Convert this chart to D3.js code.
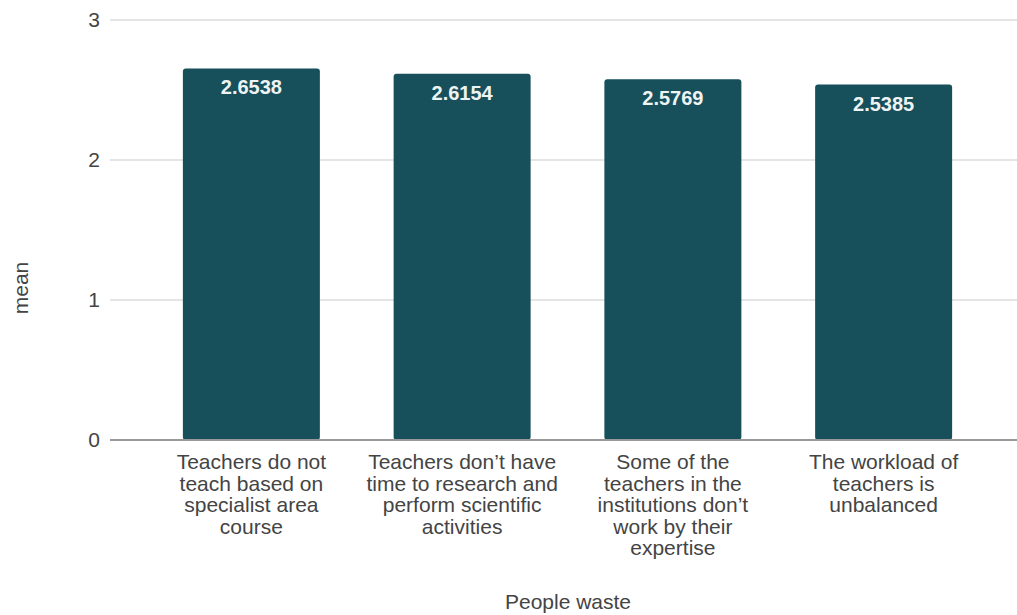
<!DOCTYPE html>
<html>
<head>
<meta charset="utf-8">
<script src="https://cdn.jsdelivr.net/npm/d3@7/dist/d3.min.js"></script>
<style>
  html, body { margin: 0; padding: 0; background: #fff; }
  svg { display: block; font-family: "Liberation Sans", Arial, sans-serif; }
</style>
</head>
<body>
<svg id="chart" width="1017" height="615"></svg>
<script>
// Mean score per "people waste" item
const categories = [
  ["Teachers do not", "teach based on", "specialist area", "course"],
  ["Teachers don’t have", "time to research and", "perform scientific", "activities"],
  ["Some of the", "teachers in the", "institutions don’t", "work by their", "expertise"],
  ["The workload of", "teachers is", "unbalanced"]
];
const means = [2.6538, 2.6154, 2.5769, 2.5385];
const yTicks = [0, 1, 2, 3];
const xTitle = "People waste";
const yTitle = "mean";

const svg = d3.select("#chart");
const W = 1017;
const plot = { left: 110, right: 1017, top: 20, bottom: 440 };

const x = d3.scaleBand()
  .domain(d3.range(means.length))
  .range([146, 989])
  .paddingInner(0.35)
  .paddingOuter(0.175);

const y = d3.scaleLinear().domain([0, 3]).range([plot.bottom, plot.top]);

const textColor = "#444";

// Horizontal gridlines
svg.append("g")
  .selectAll("line")
  .data(yTicks.filter(t => t !== 0))
  .join("line")
  .attr("x1", plot.left).attr("x2", plot.right)
  .attr("y1", d => y(d)).attr("y2", d => y(d))
  .attr("stroke", "#dcdcdc").attr("stroke-width", 1.5);

// Y axis labels
const yAxis = d3.axisLeft(y).tickValues(yTicks).tickSize(0).tickPadding(0).tickFormat(d3.format("d"));
const gy = svg.append("g").attr("transform", `translate(${plot.left - 10},0)`).call(yAxis);
gy.select(".domain").remove();
gy.selectAll("text")
  .attr("fill", textColor)
  .attr("font-size", 21)
  .attr("font-family", "Liberation Sans, Arial, sans-serif");

// Bars
svg.append("g")
  .selectAll("rect")
  .data(means)
  .join("rect")
  .attr("x", (d, i) => x(i))
  .attr("width", x.bandwidth())
  .attr("y", d => y(d))
  .attr("height", d => y(0) - y(d))
  .attr("rx", 3).attr("ry", 3)
  .attr("fill", "#174f5b");

// Value labels inside the bars
svg.append("g")
  .selectAll("text")
  .data(means)
  .join("text")
  .attr("x", (d, i) => x(i) + x.bandwidth() / 2)
  .attr("y", d => y(d) + 19)
  .attr("text-anchor", "middle")
  .attr("dominant-baseline", "central")
  .attr("fill", "#eef4f4")
  .attr("font-size", 20)
  .attr("font-weight", "bold")
  .text(d => d.toFixed(4));

// Baseline
svg.append("line")
  .attr("x1", plot.left).attr("x2", plot.right)
  .attr("y1", y(0)).attr("y2", y(0))
  .attr("stroke", "#999").attr("stroke-width", 2);

// Category labels (wrapped)
const xl = svg.append("g")
  .selectAll("text")
  .data(categories)
  .join("text")
  .attr("text-anchor", "middle")
  .attr("fill", textColor)
  .attr("font-size", 21)
  .attr("transform", (d, i) => `translate(${x(i) + x.bandwidth() / 2},469)`);
xl.selectAll("tspan")
  .data(d => d)
  .join("tspan")
  .attr("x", 0)
  .attr("y", (d, j) => j * 21.5)
  .text(d => d);

// Axis titles
svg.append("text")
  .attr("x", 568).attr("y", 609)
  .attr("text-anchor", "middle")
  .attr("fill", textColor)
  .attr("font-size", 21)
  .text(xTitle);

svg.append("text")
  .attr("transform", "translate(28,288) rotate(-90)")
  .attr("text-anchor", "middle")
  .attr("fill", textColor)
  .attr("font-size", 21)
  .text(yTitle);
</script>
</body>
</html>
